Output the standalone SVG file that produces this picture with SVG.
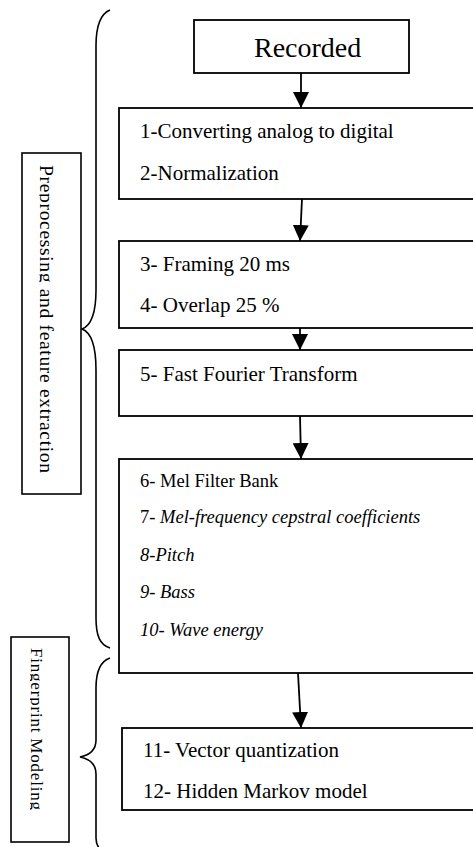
<svg xmlns="http://www.w3.org/2000/svg" width="473" height="847" viewBox="0 0 473 847">
<style>
.box{fill:#fff;stroke:#000;stroke-width:1.8}
.lbl{fill:#fff;stroke:#000;stroke-width:1.6}
.brace{fill:none;stroke:#000;stroke-width:1.6}
.t{font-family:"Liberation Serif","Times New Roman",serif;font-size:21px;fill:#000}
.s{font-size:18.5px}
.i{font-style:italic}
.conn line{stroke:#000;stroke-width:1.8}
</style>
<defs>
<marker id="ah" markerUnits="userSpaceOnUse" markerWidth="16" markerHeight="16" refX="15" refY="7.5" orient="auto" viewBox="0 0 15 15">
<path d="M0,0 L15,7.5 L0,15 Z" fill="#000"/>
</marker>
<clipPath id="c1"><rect x="39.5" y="153" width="41" height="341"/></clipPath>
<clipPath id="c2"><rect x="30" y="637" width="39" height="205"/></clipPath>
</defs>
<rect width="473" height="847" fill="#fff"/>

<g id="brace1"><path class="brace" d="M110,10 C100,14 96,26 96,46 L96,290 C96,314 90,326 82,329 C90,332 96,344 96,370 L96,618 C96,636 100,645 110,648"/></g>
<g id="brace2"><path class="brace" d="M110,658 C101,661 96,670 96,688 L96,740 C96,750 90,755 80,757 C90,759 96,764 96,774 L96,838 C96,846 100,852 110,856"/></g>

<g id="label1">
<rect class="lbl" x="22" y="153" width="59" height="341"/>
<g clip-path="url(#c1)"><text class="t" style="font-size:19.5px" transform="translate(40,165) rotate(90)" textLength="308" lengthAdjust="spacing">Preprocessing and feature extraction</text></g>
</g>
<g id="label2">
<rect class="lbl" x="11" y="637" width="58" height="205"/>
<g clip-path="url(#c2)"><text class="t" style="font-size:17px" transform="translate(30.5,648) rotate(90)" textLength="162" lengthAdjust="spacing">Fingerprint Modeling</text></g>
</g>

<g id="recorded">
<rect class="box" x="194" y="20" width="215" height="53"/>
<text class="t" style="font-size:28px" x="254" y="57">Recorded</text>
</g>
<g id="step1-2">
<rect class="box" x="119" y="108" width="370" height="91"/>
<text class="t" x="140" y="138">1-Converting analog to digital</text>
<text class="t" x="140" y="180">2-Normalization</text>
</g>
<g id="step3-4">
<rect class="box" x="119" y="241" width="370" height="87"/>
<text class="t" x="140" y="271">3- Framing 20 ms</text>
<text class="t" x="140" y="312">4- Overlap 25 %</text>
</g>
<g id="step5">
<rect class="box" x="119" y="350" width="370" height="66"/>
<text class="t" x="140" y="381">5- Fast Fourier Transform</text>
</g>
<g id="step6-10">
<rect class="box" x="119" y="459" width="370" height="214"/>
<text class="t s" x="140" y="487">6- Mel Filter Bank</text>
<text class="t s" x="140" y="523">7- <tspan class="i">Mel-frequency cepstral coefficients</tspan></text>
<text class="t s i" x="140" y="561">8-Pitch</text>
<text class="t s i" x="140" y="598">9- Bass</text>
<text class="t s i" x="140" y="636">10- Wave energy</text>
</g>
<g id="step11-12">
<rect class="box" x="122" y="728" width="370" height="82"/>
<text class="t" x="143" y="757">11- Vector quantization</text>
<text class="t" x="143" y="798">12- Hidden Markov model</text>
</g>

<g id="connectors" class="conn">
<line x1="301" y1="73" x2="301" y2="108" marker-end="url(#ah)"/>
<line x1="302" y1="199" x2="300" y2="241" marker-end="url(#ah)"/>
<line x1="300" y1="328" x2="300" y2="350" marker-end="url(#ah)"/>
<line x1="300" y1="416" x2="301" y2="459" marker-end="url(#ah)"/>
<line x1="298" y1="673" x2="301" y2="728" marker-end="url(#ah)"/>
</g>
</svg>
